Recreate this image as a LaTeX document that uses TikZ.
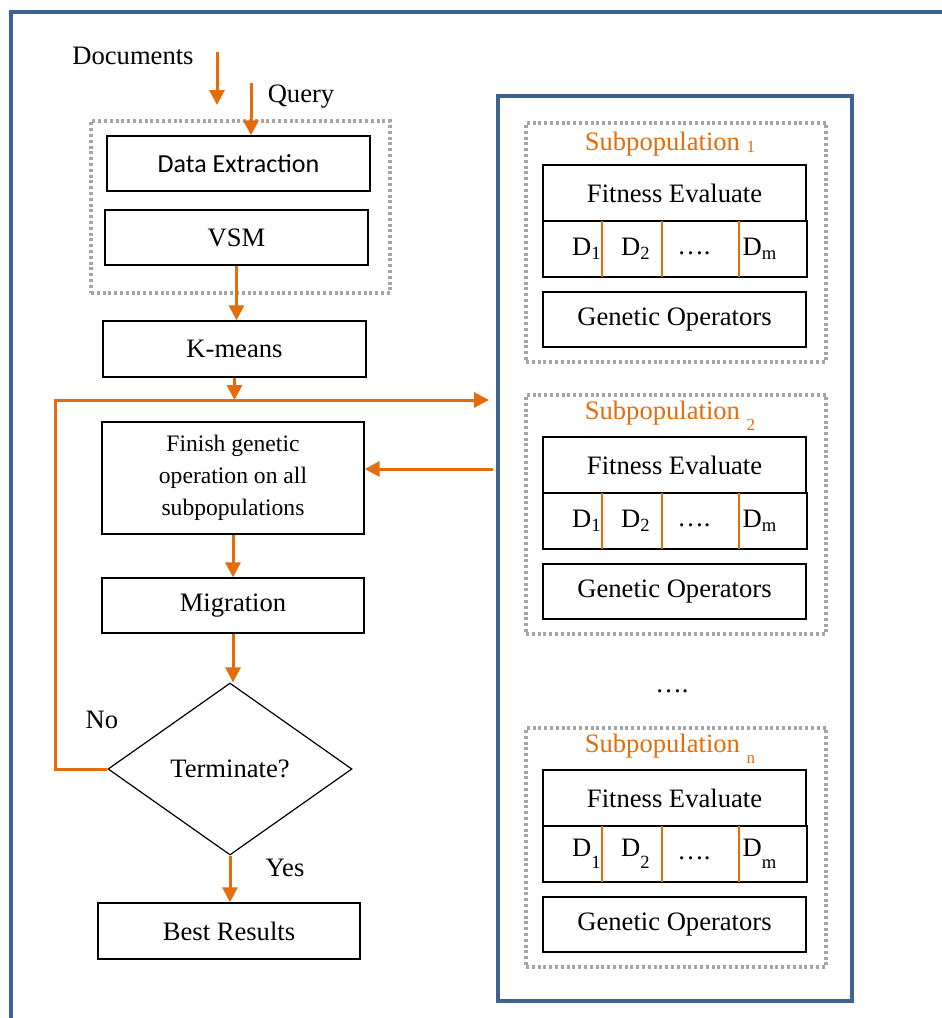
\documentclass[tikz,border=0pt]{standalone}
\usepackage{fontspec}
\setmainfont{Liberation Serif}
\newfontfamily\calfont{Carlito}
\usetikzlibrary{arrows.meta,shapes.geometric,calc}
\definecolor{orangeC}{RGB}{228,108,10}
\definecolor{blueC}{RGB}{63,98,145}
\definecolor{grayC}{RGB}{165,165,165}
\newcommand\tnr{\fontsize{13.3}{16}\selectfont}
\begin{document}
\begin{tikzpicture}[x=0.5pt,y=-0.5pt,
  box/.style={draw=black, line width=0.7pt, inner sep=0pt, font=\tnr, minimum width=131.5pt, minimum height=27.5pt},
  dotbox/.style={draw=grayC, line width=1.6pt, dash pattern=on 1.5pt off 1.4pt, inner sep=0pt},
  arr/.style={draw=orangeC, line width=1.5pt, -{Triangle[length=7.5pt,width=7.5pt]}},
  oline/.style={draw=orangeC, line width=1pt},
  lbl/.style={font=\tnr, inner sep=0pt},
  bluebox/.style={draw=blueC, line width=2pt, inner sep=0pt}]
\useasboundingbox (0,0) rectangle (942,1018);

% outer frame (only top and left visible)
\draw[blueC, line width=2pt] (11,1018) -- (11,12) -- (942,12);

% left column
\node[dotbox, minimum width=149.5pt, minimum height=86pt] (pre) at (240.5,207) {};
\node[box, font=\calfont\fontsize{13}{15}\selectfont] (dataext) at (238.5,163.5) {Data Extraction};
\node[box] (vsm) at (236.5,237.5) {VSM};
\node[box, minimum height=28pt] (kmeans) at (234.5,349) {K-means};
\node[box, minimum width=131pt, minimum height=56pt, align=center, font=\fontsize{11.8}{16}\selectfont] (finish) at (233,478) {Finish genetic\\operation on all\\subpopulations};
\node[box, minimum width=131pt] (migration) at (233,605.5) {Migration};
\node[draw=black, line width=0.6pt, shape=diamond, inner sep=0pt, minimum width=122pt, minimum height=86pt, font=\tnr] (term) at (230,769) {Terminate?};
\node[box, minimum width=131pt, minimum height=28pt] (best) at (229,931) {Best Results};

\node[lbl] (doclbl) at (133,56) {Documents};
\node[lbl] (qlbl) at (301,97) {Query};
\node[lbl] (nolbl) at (102,720) {No};
\node[lbl] (yeslbl) at (285,868) {Yes};

\coordinate (docA) at (217,52);
\coordinate (docB) at (217,105);
\coordinate (qA) at (251,83);
\coordinate (loopY) at (235,400);
\coordinate (loopX) at (55,400);
\coordinate (loopEnd) at (489,400);
\coordinate (back) at (493,469);

\draw[arr] (docA) -- (docB);
\draw[arr] (qA) -- (qA |- dataext.north);
\draw[arr] (vsm.south) -- (vsm.south |- kmeans.north);
\draw[arr] (kmeans.south) -- (kmeans.south |- loopY);
\draw[arr] (term.west) -- (term.west -| loopX) -- (loopX) -- (loopEnd);
\draw[arr] (back) -- (back -| finish.east);
\draw[arr] (finish.south) -- (finish.south |- migration.north);
\draw[arr] (migration.south) -- (migration.south |- term.north);
\draw[arr] (term.south) -- (term.south |- best.north);

% right column
\node[bluebox, minimum width=177pt, minimum height=452.5pt] (island) at (675,548.5) {};

\foreach \k/\dy/\lw/\dl in {1/0/-0.15ex/0ex, 2/272/-0.9ex/0ex, n/605/-0.9ex/-0.6ex} {
  \node[dotbox, minimum width=150pt, minimum height=119.5pt] (sp\k) at (676,{242.5+\dy}) {};
  \node[lbl, text=orangeC] (title\k) at (670,{144+\dy}) {Subpopulation \raisebox{\lw}{\fontsize{8.5}{9}\selectfont\k}};
  \node[box, minimum width=131.5pt, minimum height=28pt] (fit\k) at (674.5,{193+\dy}) {Fitness Evaluate};
  \node[box, minimum width=132pt, minimum height=28pt] (row\k) at (675,{249+\dy}) {};
  \draw[oline] (602,{221+\dy}) -- (602,{277+\dy});
  \draw[oline] (662,{221+\dy}) -- (662,{277+\dy});
  \draw[oline] (739,{221+\dy}) -- (739,{277+\dy});
  \node[lbl] (da\k) at (587,{249+\dy}) {D\raisebox{\dl}{\textsubscript{1}}};
  \node[lbl] (db\k) at (636,{249+\dy}) {D\raisebox{\dl}{\textsubscript{2}}};
  \node[lbl] (dc\k) at (694,{253+\dy}) {….};
  \node[lbl] (dd\k) at (760,{249+\dy}) {D\raisebox{\dl}{\textsubscript{m}}};
  \node[box, minimum width=131.5pt, minimum height=27.5pt] (go\k) at (674.5,{319.5+\dy}) {Genetic Operators};
}
\node[lbl] (more) at (672,691) {….};
\end{tikzpicture}
\end{document}
